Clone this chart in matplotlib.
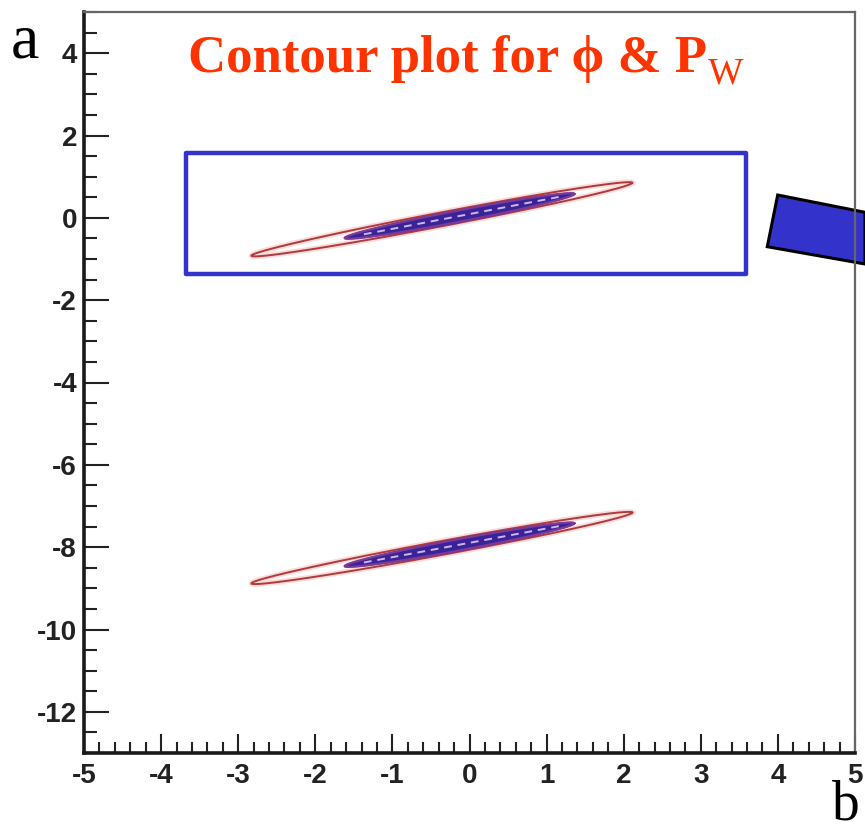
import numpy as np
import matplotlib
import matplotlib.pyplot as plt
from matplotlib.patches import Rectangle, Polygon
from matplotlib.ticker import MultipleLocator

matplotlib.use('Agg')
plt.rcParams['axes.unicode_minus'] = False

# Contour data (b on x, a on y): tips of the outer (red) and inner (blue) regions
outer_x0 = [-2.83, -2.83]
outer_y0 = [-0.92, -8.88]
outer_x1 = [2.11, 2.11]
outer_y1 = [0.85, -7.16]
outer_halfwidth = [0.17, 0.17]

inner_x0 = [-1.62, -1.62]
inner_y0 = [-0.49, -8.46]
inner_x1 = [1.36, 1.36]
inner_y1 = [0.58, -7.42]
inner_halfwidth = [0.14, 0.14]

# Highlight box around the upper solution
box_x = [-3.68, 3.59]
box_y = [-1.36, 1.58]

x_ticks = [-5, -4, -3, -2, -1, 0, 1, 2, 3, 4, 5]
y_ticks = [-12, -10, -8, -6, -4, -2, 0, 2, 4]


def ellipse_points(x0, y0, x1, y1, hw, n=240):
    """Thin ellipse between two tips, vertical half thickness hw."""
    t = np.linspace(0, 2 * np.pi, n)
    cx, cy = (x0 + x1) / 2, (y0 + y1) / 2
    ux, uy = (x1 - x0) / 2, (y1 - y0) / 2
    return cx + np.cos(t) * ux, cy + np.cos(t) * uy + np.sin(t) * hw


fig = plt.figure(figsize=(8.65, 8.32), dpi=100)
ax = fig.add_axes([84 / 865, 79 / 832, 771 / 865, 741 / 832])
ax.set_facecolor('none')

for i in range(len(outer_x0)):
    ox, oy = ellipse_points(outer_x0[i], outer_y0[i], outer_x1[i], outer_y1[i], outer_halfwidth[i])
    ax.plot(ox, oy, color='#f4b8b8', lw=4, alpha=0.5, zorder=2)
    ax.plot(ox, oy, color='#b03a3a', lw=1.4, zorder=3)

    ix, iy = ellipse_points(inner_x0[i], inner_y0[i], inner_x1[i], inner_y1[i], inner_halfwidth[i])
    ax.fill(ix, iy, color='#3b2296', zorder=4)
    ax.plot(ix, iy, color='#7a3a9a', lw=1.6, zorder=4)
    slope = (inner_y1[i] - inner_y0[i]) / (inner_x1[i] - inner_x0[i])
    ax.plot([inner_x0[i] + 0.25, inner_x1[i] - 0.2],
            [inner_y0[i] + 0.25 * slope, inner_y1[i] - 0.2 * slope],
            color='#c8b8f0', lw=1.4, dashes=(4, 3), zorder=5)

ax.add_patch(Rectangle((box_x[0], box_y[0]), box_x[1] - box_x[0], box_y[1] - box_y[0],
                       fill=False, edgecolor='#3333cc', lw=3.2, joinstyle='round', zorder=6))

ax.set_xlim(-5, 5)
ax.set_ylim(-13, 5)
ax.set_xticks(x_ticks)
ax.set_yticks(y_ticks)
ax.xaxis.set_minor_locator(MultipleLocator(0.2))
ax.yaxis.set_minor_locator(MultipleLocator(0.5))

ax.tick_params(axis='both', which='both', direction='in', width=1.5, color='#222222',
               top=False, right=False)
ax.tick_params(axis='x', which='major', length=14, pad=7)
ax.tick_params(axis='x', which='minor', length=8)
ax.tick_params(axis='y', which='major', length=18, pad=5)
ax.tick_params(axis='y', which='minor', length=9.5)
for lab in ax.get_xticklabels() + ax.get_yticklabels():
    lab.set_fontfamily('Liberation Sans')
    lab.set_fontweight('bold')
    lab.set_fontsize(20)
    lab.set_color('#222222')

for side in ['left', 'bottom']:
    ax.spines[side].set_linewidth(2.6)
    ax.spines[side].set_color('#1a1a1a')
for side in ['top', 'right']:
    ax.spines[side].set_linewidth(1.6)
    ax.spines[side].set_color('#666666')

# Arrow piece on the right, partly outside the frame
arrow = Polygon([[777.7 / 865, 1 - 195 / 832], [767.3 / 865, 1 - 246.7 / 832],
                 [865 / 865, 1 - 264 / 832], [865 / 865, 1 - 212.3 / 832]],
                closed=True, transform=fig.transFigure, facecolor='#3333cc',
                edgecolor='black', lw=2.2, zorder=-1)
fig.patches.append(arrow)

# Title with subscript W
title_color = '#ff3300'
t1 = fig.text(188 / 865, 1 - 72 / 832, 'Contour plot for ϕ & P', color=title_color,
              fontsize=38, fontweight='bold', family=['Liberation Serif', 'DejaVu Serif'],
              va='baseline', ha='left')
fig.canvas.draw()
bb = t1.get_window_extent()
fig.text(bb.x1 / 865 + 0.001, 1 - 84 / 832, 'W', color=title_color, fontsize=27,
         family=['Liberation Serif'], va='baseline', ha='left')

# Axis letters
fig.text(11 / 865, 1 - 57 / 832, 'a', fontsize=46, family=['Liberation Serif'],
         va='baseline', ha='left')
fig.text(832 / 865, 1 - 820 / 832, 'b', fontsize=40, family=['Liberation Serif'],
         va='baseline', ha='left')

fig.savefig('out.png', dpi=100)
